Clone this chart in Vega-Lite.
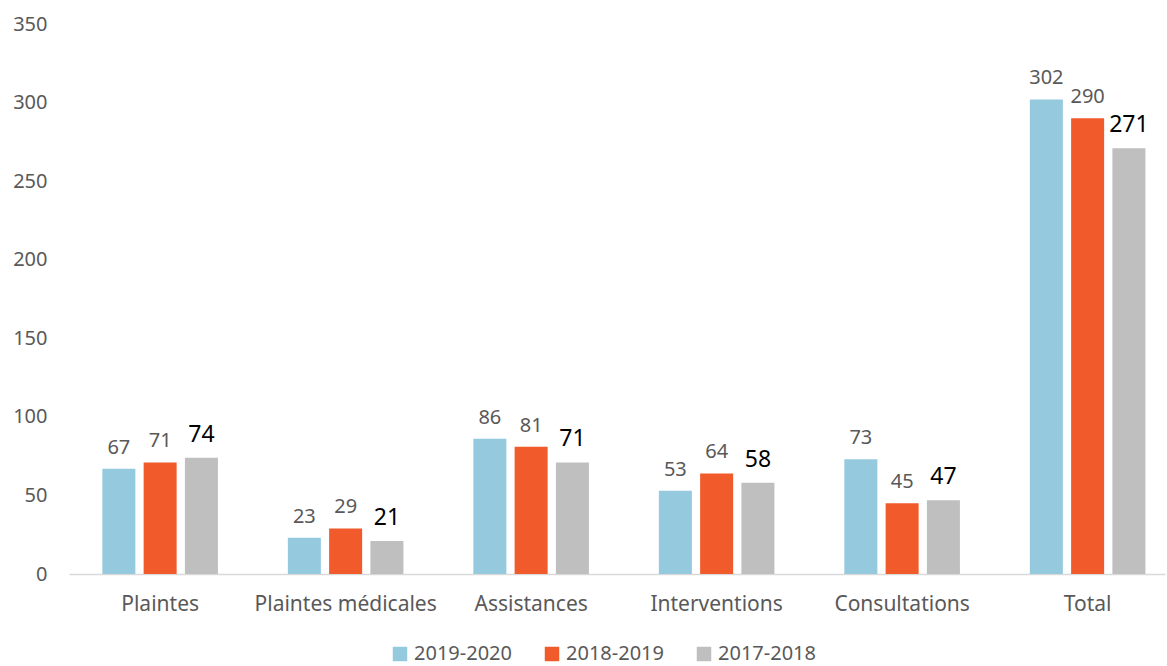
{
  "$schema": "https://vega.github.io/schema/vega-lite/v6.json",
  "width": 1096,
  "height": 550,
  "autosize": {"type": "none"},
  "padding": {"left": 69, "top": 24, "right": 2, "bottom": 92},
  "background": "white",
  "config": {
    "view": {"stroke": null},
    "font": "Noto Sans",
    "axis": {"labelFont": "Noto Sans", "labelColor": "#595959", "labelFontSize": 20, "grid": false, "ticks": false, "title": null}
  },
  "data": {
    "values": [
      {"category": "Plaintes", "series": "2019-2020", "value": 67},
      {"category": "Plaintes", "series": "2018-2019", "value": 71},
      {"category": "Plaintes", "series": "2017-2018", "value": 74},
      {"category": "Plaintes médicales", "series": "2019-2020", "value": 23},
      {"category": "Plaintes médicales", "series": "2018-2019", "value": 29},
      {"category": "Plaintes médicales", "series": "2017-2018", "value": 21},
      {"category": "Assistances", "series": "2019-2020", "value": 86},
      {"category": "Assistances", "series": "2018-2019", "value": 81},
      {"category": "Assistances", "series": "2017-2018", "value": 71},
      {"category": "Interventions", "series": "2019-2020", "value": 53},
      {"category": "Interventions", "series": "2018-2019", "value": 64},
      {"category": "Interventions", "series": "2017-2018", "value": 58},
      {"category": "Consultations", "series": "2019-2020", "value": 73},
      {"category": "Consultations", "series": "2018-2019", "value": 45},
      {"category": "Consultations", "series": "2017-2018", "value": 47},
      {"category": "Total", "series": "2019-2020", "value": 302},
      {"category": "Total", "series": "2018-2019", "value": 290},
      {"category": "Total", "series": "2017-2018", "value": 271}
    ]
  },
  "encoding": {
    "x": {
      "field": "category", "type": "nominal", "sort": null,
      "scale": {"paddingInner": 0.377, "paddingOuter": 0.1427, "align": 0.63},
      "axis": {"labelAngle": 0, "domainColor": "#D9D9D9", "domainWidth": 1.5, "labelPadding": 19, "labelFontSize": 21, "labelLimit": 0}
    },
    "xOffset": {
      "field": "series", "type": "nominal",
      "sort": ["2019-2020", "2018-2019", "2017-2018"],
      "scale": {"paddingInner": 0.2, "paddingOuter": 0}
    },
    "y": {
      "field": "value", "type": "quantitative",
      "scale": {"domain": [0, 350]},
      "axis": {"values": [0, 50, 100, 150, 200, 250, 300, 350], "domain": false, "labelPadding": 22}
    }
  },
  "layer": [
    {
      "mark": {"type": "bar"},
      "encoding": {
        "color": {
          "field": "series", "type": "nominal",
          "sort": ["2019-2020", "2018-2019", "2017-2018"],
          "scale": {"domain": ["2019-2020", "2018-2019", "2017-2018"], "range": ["#95C9DE", "#F15A2B", "#BFBFBF"]},
          "legend": {
            "orient": "none", "legendX": 321, "legendY": 620, "direction": "horizontal", "title": null,
            "symbolType": "square", "symbolSize": 210, "symbolStrokeWidth": 0,
            "labelFontSize": 20, "labelColor": "#595959", "labelFont": "Noto Sans",
            "columnPadding": 30
          }
        }
      }
    },
    {
      "mark": {"type": "text", "baseline": "bottom", "dy": -11},
      "encoding": {
        "text": {"field": "value", "type": "quantitative"},
        "color": {"condition": {"test": "datum.series === '2017-2018'", "value": "#000000"}, "value": "#595959"},
        "size": {"condition": {"test": "datum.series === '2017-2018'", "value": 23}, "value": 20}
      }
    }
  ]
}
